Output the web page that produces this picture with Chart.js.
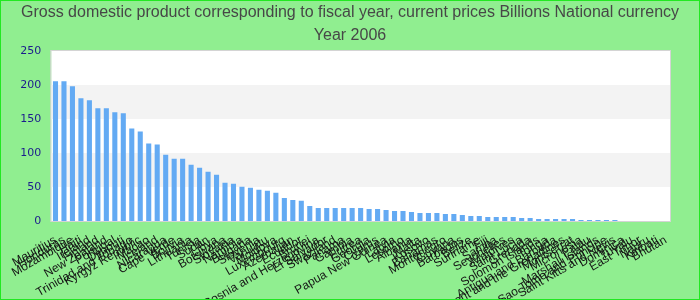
<!DOCTYPE html>
<html>
<head>
<meta charset="utf-8">
<script src="https://cdn.jsdelivr.net/npm/chart.js@4"></script>
<style>
  html, body { margin: 0; padding: 0; }
  #wrap { width: 700px; height: 300px; box-sizing: border-box; border: 1px solid #22e822; background: #90ee90; }
</style>
</head>
<body>
<div id="wrap"><canvas id="gdpChart"></canvas></div>
<script>
var countries = [
    'Mauritius', 'Honduras', 'Mozambique', 'Haiti', 'Ireland', 'Finland', 'New Zealand', 'Portugal',
    'Djibouti', 'Trinidad and Tobago', 'Kyrgyz Republic', 'Macao', 'Iceland', 'Nicaragua', 'Cape Verde',
    'Bolivia', 'Lithuania', 'Tunisia', 'Sudan', 'Libya', 'Botswana', 'Slovakia', 'Namibia', 'Bulgaria',
    'Slovenia', 'Vanuatu', 'Moldova', 'Luxembourg', 'Azerbaijan', 'Ecuador', 'Brunei', 'Bosnia and Herzegovina',
    'El Salvador', 'Swaziland', 'Panama', 'Gambia', 'Eritrea', 'Georgia', 'Cyprus', 'Papua New Guinea',
    'Latvia', 'Lesotho', 'Albania', 'Malta', 'Kosovo', 'Bahamas', 'Montenegro', 'Guyana', 'Barbados',
    'Belize', 'Suriname', 'Fiji', 'Samoa', 'Seychelles', 'Maldives', 'Saint Lucia', 'Grenada',
    'Solomon Islands', 'Tonga', 'Antigua and Barbuda', 'Saint Vincent and the Grenadines', 'Montserrat',
    'Micronesia', 'Palau', 'Marshall Islands', 'Sao Tome and Principe', 'Saint Kitts and Nevis',
    'Dominica', 'Tuvalu', 'East Timor', 'Nauru', 'Kiribati', 'Bhutan'
];

var gdpValues = [
    205.6, 205.6, 198, 180.5, 177.5, 165.7, 165.7, 159.8,
    158.3, 136, 131.7, 114, 112.4, 97.6, 91.7,
    91.7, 82.8, 78.4, 72.5, 68, 56.2, 54.7, 50.3,
    48.8, 45.9, 44.4, 41.4, 34, 31, 29.6, 22.2,
    19.2, 19.2, 19.2, 19.2, 19.2, 19.2, 17.7, 17.7,
    16.3, 14.8, 14.8, 13.3, 11.8, 11.8, 11.8, 10.4, 10.4,
    8.9, 7.4, 7.4, 5.9, 5.9, 5.9, 5.9, 4.4,
    4.4, 3, 3, 3, 3, 3, 1.5,
    1.5, 1.5, 1.5, 1.5,
    null, null, null, null, null
];

var yTicks = [0, 50, 100, 150, 200, 250];

var titleLines = [
    'Gross domestic product corresponding to fiscal year, current prices Billions National currency',
    'Year 2006'
];

// white plot area with grey bands, light grey frame
var bandPlugin = {
    id: 'bands',
    beforeDraw: function (chart) {
        var c = chart.ctx;
        var area = chart.chartArea;
        var y = chart.scales.y;
        c.save();
        c.fillStyle = '#ffffff';
        c.fillRect(area.left, area.top, area.right - area.left, area.bottom - area.top);
        c.fillStyle = '#f3f3f3';
        for (var i = 1; i < yTicks.length - 1; i += 2) {
            var top = y.getPixelForValue(yTicks[i + 1]);
            var bottom = y.getPixelForValue(yTicks[i]);
            c.fillRect(area.left, top, area.right - area.left, bottom - top);
        }
        c.strokeStyle = '#d4d4d4';
        c.lineWidth = 1;
        c.strokeRect(area.left - 0.5, area.top - 0.5, area.right - area.left + 1, area.bottom - area.top + 1);
        c.restore();
    }
};

// two-line title drawn at fixed rows
var titlePlugin = {
    id: 'twoLineTitle',
    afterDraw: function (chart) {
        var c = chart.ctx;
        c.save();
        c.fillStyle = '#474747';
        c.font = '16px "Liberation Sans"';
        c.textAlign = 'center';
        c.textBaseline = 'middle';
        c.fillText(titleLines[0], chart.width / 2, 12);
        c.fillText(titleLines[1], chart.width / 2, 35);
        c.restore();
    }
};

var ctx = document.getElementById('gdpChart').getContext('2d');
var gdpChart = new Chart(ctx, {
    type: 'bar',
    data: {
        labels: countries,
        datasets: [{
            label: 'GDP',
            data: gdpValues,
            backgroundColor: 'rgb(99, 170, 243)',
            barPercentage: 0.75,
            categoryPercentage: 0.8
        }]
    },
    options: {
        responsive: true,
        maintainAspectRatio: false,
        animation: false,
        layout: {
            padding: { left: 0, right: 29, top: 50, bottom: 0 }
        },
        plugins: {
            legend: { display: false },
            tooltip: { enabled: false },
            title: { display: false }
        },
        scales: {
            x: {
                grid: { display: false, drawTicks: false },
                border: { display: false },
                ticks: {
                    color: '#151515',
                    font: { family: 'Liberation Sans', size: 12 },
                    autoSkip: false,
                    minRotation: 30,
                    maxRotation: 30,
                    padding: 12
                },
                afterFit: function (scale) { scale.height = 78; }
            },
            y: {
                min: 0,
                max: 250,
                grid: { display: false, drawTicks: false },
                border: { display: false },
                afterBuildTicks: function (scale) {
                    scale.ticks = yTicks.map(function (v) { return { value: v }; });
                },
                ticks: {
                    color: '#1c1c8c',
                    font: { family: 'DejaVu Sans', size: 11 },
                    padding: 10
                },
                afterFit: function (scale) { scale.width = 49; }
            }
        }
    },
    plugins: [bandPlugin, titlePlugin]
});
</script>
</body>
</html>
